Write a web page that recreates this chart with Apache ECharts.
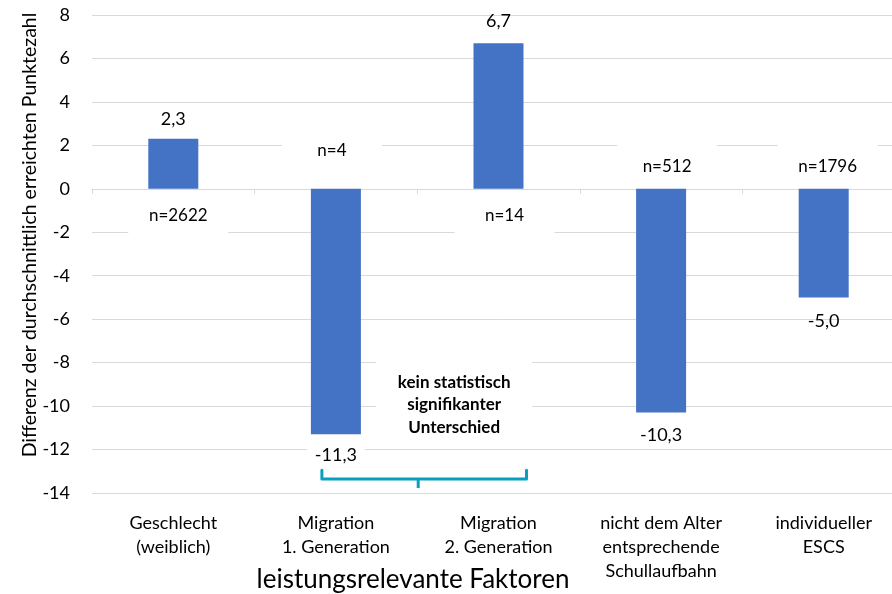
<!DOCTYPE html>
<html>
<head>
<meta charset="utf-8">
<script src="https://cdn.jsdelivr.net/npm/echarts@6/dist/echarts.min.js"></script>
<style>
html,body{margin:0;padding:0;background:#fff;overflow:hidden;}
#chart{width:906px;height:594px;}
</style>
</head>
<body>
<div id="chart"></div>
<script>
const categories = [
  "Geschlecht\n(weiblich)",
  "Migration\n1. Generation",
  "Migration\n2. Generation",
  "nicht dem Alter\nentsprechende\nSchullaufbahn",
  "individueller\nESCS"
];
const values = [2.3, -11.3, 6.7, -10.3, -5.0];
const sampleSizes = ["n=2622", "n=4", "n=14", "n=512", "n=1796"];
const yTicks = { min: -14, max: 8, interval: 2 };
const yTitle = "Differenz der durchschnittlich erreichten Punktezahl";
const xTitle = "leistungsrelevante Faktoren";
const noteText = "kein statistisch\nsignifikanter\nUnterschied";

const FONT = "Lato";
const TXT = "#000000";
const BAR = "#4472C4";
const GRID = "#d9d9d9";
const TEAL = "#08A0C0";

const chart = echarts.init(document.getElementById('chart'), null, {renderer: 'canvas'});

function fmt(v){ return v.toFixed(1).replace('.', ','); }

const valDistances = [11, 8, 13, 14, 15];
const nDistances = [5, 17, 5, 1, 1];
const nOffsets = [[5,0],[-4,0],[6,0],[6,0],[4,0]];

const option = {
  animation: false,
  backgroundColor: '#ffffff',
  textStyle: { fontFamily: FONT },
  grid: { left: 92, top: 15, width: 813, height: 478, containLabel: false },
  xAxis: [
    {
      type: 'category',
      data: categories,
      position: 'bottom',
      axisLine: { show: false, onZero: false },
      axisTick: { show: false },
      axisLabel: { color: TXT, fontSize: 18, fontFamily: FONT, lineHeight: 24, margin: 18, interval: 0 }
    },
    {
      type: 'category',
      data: categories,
      position: 'bottom',
      axisLine: { show: true, onZero: true, lineStyle: { color: GRID, width: 1 } },
      axisTick: { show: true, length: 5, lineStyle: { color: GRID } },
      axisLabel: { show: false }
    }
  ],
  yAxis: {
    type: 'value',
    min: yTicks.min, max: yTicks.max, interval: yTicks.interval,
    axisLine: { show: false },
    axisTick: { show: false },
    axisLabel: { color: TXT, fontSize: 18, fontFamily: FONT, margin: 22 },
    splitLine: { lineStyle: { color: GRID, width: 1 } }
  },
  series: [
    {
      type: 'bar',
      xAxisIndex: 0,
      barWidth: 50,
      z: 3,
      itemStyle: { color: BAR },
      data: values.map((v, i) => ({
        value: v,
        label: {
          show: true,
          position: v >= 0 ? 'top' : 'bottom',
          distance: valDistances[i],
          formatter: () => fmt(v),
          color: TXT, fontSize: 18, fontFamily: FONT,
          backgroundColor: i === 1 ? '#ffffff' : 'transparent',
          padding: i === 1 ? [4, 8, 4, 8] : 0
        }
      }))
    },
    {
      type: 'bar',
      xAxisIndex: 0,
      barWidth: 50,
      barGap: '-100%',
      z: 4,
      silent: true,
      itemStyle: { color: 'transparent' },
      data: values.map((v, i) => ({
        value: 0,
        label: {
          show: true,
          position: v >= 0 ? 'bottom' : 'top',
          distance: nDistances[i],
          offset: nOffsets[i],
          formatter: () => sampleSizes[i],
          color: TXT, fontSize: 17, fontFamily: FONT, lineHeight: 17,
          backgroundColor: '#ffffff',
          padding: [13, 0, 13, 0],
          width: 100,
          align: 'center'
        }
      }))
    }
  ]
};
chart.setOption(option);

function px(cat, val){ return chart.convertToPixel({xAxisIndex: 0, yAxisIndex: 0}, [cat, val]); }

const c1 = px(1, 0)[0], c2 = px(2, 0)[0];
const mid = (c1 + c2) / 2;
const yA = px(0, -12.95)[1], yB = px(0, -13.35)[1], yC = px(0, -13.77)[1];
const xL = c1 - 14, xR = c2 + 28;
const noteCenter = px(0, -9.8)[1];
const plotMidY = (px(0, yTicks.max)[1] + px(0, yTicks.min)[1]) / 2;

chart.setOption({
  graphic: [
    {
      type: 'polyline', z: 10,
      shape: { points: [[xL, yA], [xL, yB], [xR, yB], [xR, yA]] },
      style: { stroke: TEAL, lineWidth: 3, fill: null, lineJoin: 'round', lineCap: 'round' }
    },
    {
      type: 'line', z: 10,
      shape: { x1: mid + 1, y1: yB, x2: mid + 1, y2: yC },
      style: { stroke: TEAL, lineWidth: 3 }
    },
    {
      type: 'rect', z: 10,
      shape: { x: mid - 41, y: noteCenter - 44, width: 156, height: 88 },
      style: { fill: '#ffffff' }
    },
    {
      type: 'text', z: 11,
      x: mid + 37, y: noteCenter + 3,
      style: {
        text: noteText, fill: TXT, font: 'bold 17px ' + FONT,
        align: 'center', verticalAlign: 'middle', lineHeight: 22.5
      }
    },
    {
      type: 'text', z: 11,
      x: 413, y: 580,
      style: { text: xTitle, fill: TXT, font: '26px ' + FONT, align: 'center', verticalAlign: 'middle' }
    },
    {
      type: 'text', z: 11,
      x: 30, y: plotMidY - 19,
      rotation: Math.PI / 2,
      style: { text: yTitle, fill: TXT, font: '19.5px ' + FONT, align: 'center', verticalAlign: 'middle' }
    }
  ]
});
</script>
</body>
</html>
